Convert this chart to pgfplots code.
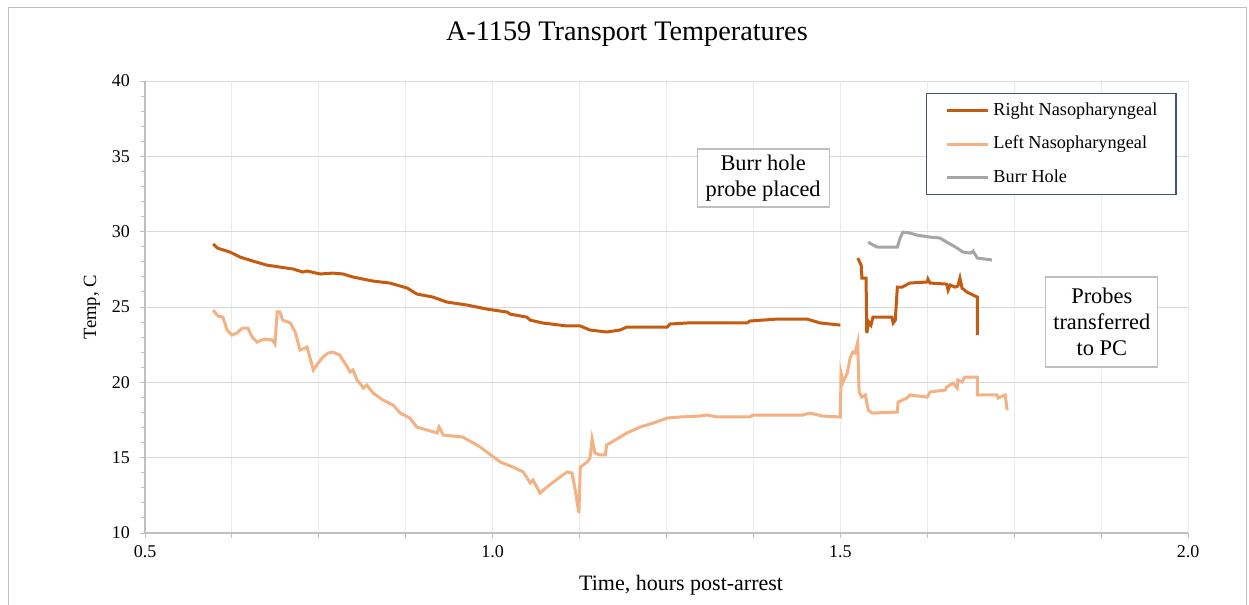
\documentclass[border=0pt]{standalone}
\usepackage{fontspec}
\setmainfont{Liberation Serif}
\usepackage{pgfplots}
\pgfplotsset{compat=1.18}
\definecolor{rightc}{HTML}{C55A11}
\definecolor{leftc}{HTML}{F4B183}
\definecolor{burrc}{HTML}{A5A5A5}
\definecolor{axgray}{HTML}{BFBFBF}
\definecolor{hgrid}{HTML}{D9D9D9}
\definecolor{vgrid}{HTML}{EBEBEB}
\definecolor{legframe}{HTML}{44546A}
\begin{document}
\begin{tikzpicture}
\path[use as bounding box] (0,0) rectangle (936.75pt,453pt);
\draw[axgray, line width=0.75pt] (6pt,-5pt) rectangle (934.5pt,447pt);
\begin{axis}[
  at={(108.75pt,53.25pt)}, anchor=south west,
  scale only axis, width=782.25pt, height=339pt,
  xmin=0.5, xmax=2, ymin=10, ymax=40,
  xtick={0.5,0.625,0.75,0.875,1,1.125,1.25,1.375,1.5,1.625,1.75,1.875,2},
  xticklabels={0.5,,,,1.0,,,,1.5,,,,2.0},
  ytick={10,15,20,25,30,35,40},
  minor y tick num=4,
  /pgf/number format/assume math mode=true,
  ticklabel style={font=\fontsize{13.5}{15}\selectfont},
  xticklabel style={yshift=-2pt},
  yticklabel style={xshift=-4pt},
  tick align=outside,
  major tick length=3.75pt, minor tick length=3pt,
  tick style={axgray, line width=0.75pt},
  axis x line*=bottom, axis y line*=left,
  axis line style={axgray, line width=1.1pt, -},
  xmajorgrids, ymajorgrids,
  x grid style={vgrid, line width=0.75pt},
  y grid style={hgrid, line width=0.75pt},
  title={A-1159 Transport Temperatures},
  title style={font=\fontsize{21.2}{24}\selectfont, at={(0.462,1)}, anchor=center, yshift=29.25pt},
  xlabel={Time, hours post-arrest},
  xlabel style={font=\fontsize{16.5}{18}\selectfont, at={(0.514,-0.115)}, anchor=center},
  ylabel={Temp, C},
  ylabel style={font=\fontsize{14}{16}\selectfont, at={(-0.0508,0.5)}, anchor=center, rotate=0},
  legend cell align=left,
  legend image code/.code={\draw[#1] (0pt,0pt) -- (30.75pt,0pt);},
  legend style={at={(0.749,0.973)}, anchor=north west, draw=legframe, line width=0.9pt,
    font=\fontsize{13.7}{16}\selectfont, inner xsep=14pt, inner ysep=6.25pt,
    nodes={inner sep=0pt, text height=10pt, text depth=3pt},
    row sep=12pt, /tikz/column sep=3pt},
]
\addplot[rightc, line width=2.25pt] coordinates {
(0.598,29.18) (0.604,28.91) (0.622,28.65) (0.637,28.31) (0.655,28.05) (0.675,27.78)
(0.694,27.65) (0.713,27.52) (0.727,27.32) (0.733,27.39) (0.752,27.19) (0.770,27.25)
(0.785,27.19) (0.799,26.99) (0.828,26.72) (0.852,26.59) (0.877,26.26) (0.891,25.86)
(0.914,25.66) (0.934,25.33) (0.963,25.13) (0.992,24.86) (1.021,24.66) (1.025,24.53)
(1.049,24.33) (1.054,24.13) (1.072,23.94) (1.107,23.74) (1.126,23.74) (1.140,23.47)
(1.164,23.34) (1.183,23.47) (1.193,23.67) (1.251,23.67) (1.255,23.87) (1.280,23.94)
(1.366,23.94) (1.370,24.07) (1.409,24.20) (1.452,24.20) (1.471,23.94) (1.500,23.80)
};
\addlegendentry{Right Nasopharyngeal}
\addplot[leftc, line width=2.25pt] coordinates {
(0.598,24.80) (0.605,24.40) (0.612,24.33) (0.618,23.47) (0.625,23.14) (0.632,23.27)
(0.640,23.60) (0.648,23.60) (0.654,23.01) (0.661,22.67) (0.668,22.81) (0.673,22.87)
(0.683,22.81) (0.687,22.54) (0.690,24.67) (0.694,24.67) (0.698,24.13) (0.709,23.94)
(0.716,23.34) (0.723,22.14) (0.730,22.28) (0.733,22.34) (0.737,21.68) (0.742,20.82)
(0.749,21.28) (0.756,21.68) (0.763,21.94) (0.770,22.01) (0.780,21.81) (0.791,21.02)
(0.795,20.68) (0.799,20.82) (0.805,20.15) (0.809,19.95) (0.814,19.62) (0.819,19.82)
(0.828,19.29) (0.842,18.83) (0.857,18.49) (0.867,17.96) (0.881,17.63) (0.891,17.03)
(0.906,16.83) (0.920,16.64) (0.923,17.03) (0.929,16.50) (0.957,16.37) (0.982,15.71)
(1.011,14.71) (1.029,14.38) (1.044,14.05) (1.054,13.32) (1.058,13.52) (1.068,12.65)
(1.078,13.05) (1.097,13.72) (1.107,14.05) (1.114,13.98) (1.118,13.05) (1.121,12.19)
(1.124,11.33) (1.126,14.38) (1.136,14.71) (1.140,14.98) (1.143,16.24) (1.147,15.31)
(1.154,15.18) (1.162,15.18) (1.164,15.84) (1.176,16.17) (1.193,16.64) (1.212,17.03)
(1.231,17.30) (1.251,17.63) (1.269,17.70) (1.298,17.76) (1.308,17.83) (1.323,17.70)
(1.370,17.70) (1.374,17.83) (1.446,17.83) (1.456,17.96) (1.475,17.76) (1.500,17.70)
(1.501,20.62) (1.504,20.02) (1.510,20.62) (1.514,21.61) (1.518,22.01) (1.521,21.94)
(1.525,22.67) (1.527,19.36) (1.531,19.02) (1.536,19.16) (1.540,18.16) (1.546,17.96)
(1.582,18.03) (1.583,18.69) (1.596,18.96) (1.600,19.16) (1.625,19.02) (1.629,19.36)
(1.651,19.49) (1.653,19.69) (1.662,19.95) (1.668,19.62) (1.669,20.15) (1.675,20.02)
(1.679,20.35) (1.697,20.35) (1.697,19.16) (1.725,19.16) (1.727,18.96) (1.737,19.16)
(1.740,18.16)
};
\addlegendentry{Left Nasopharyngeal}
\addplot[burrc, line width=2.25pt] coordinates {
(1.540,29.31) (1.547,29.11) (1.553,28.98) (1.582,28.98) (1.586,29.58) (1.590,29.97)
(1.600,29.91) (1.610,29.77) (1.629,29.64) (1.643,29.58) (1.653,29.31) (1.668,28.91)
(1.676,28.65) (1.687,28.58) (1.691,28.71) (1.697,28.25) (1.718,28.12)
};
\addlegendentry{Burr Hole}
\addplot[rightc, line width=2.25pt, forget plot] coordinates {
(1.525,28.25) (1.530,27.78) (1.531,26.92) (1.537,26.92) (1.538,23.27) (1.541,24.00)
(1.544,23.80) (1.547,24.33) (1.574,24.33) (1.576,23.94) (1.579,24.13) (1.582,26.32)
(1.589,26.32) (1.597,26.52) (1.600,26.59) (1.625,26.66) (1.626,26.85) (1.629,26.59)
(1.653,26.52) (1.655,26.12) (1.658,26.46) (1.665,26.32) (1.669,26.39) (1.672,26.92)
(1.675,26.26) (1.682,25.99) (1.691,25.79) (1.697,25.66) (1.697,23.14)
};
\node[draw=axgray, line width=0.9pt, fill=white, align=center, inner sep=0pt,
  minimum width=99pt, minimum height=43.5pt,
  font=\fontsize{16.8}{19.5}\selectfont] at (axis cs:1.389,33.56) {Burr hole\\probe placed};
\node[draw=axgray, line width=0.9pt, fill=white, align=center, inner sep=0pt,
  minimum width=84pt, minimum height=67.5pt,
  font=\fontsize{16.8}{19.5}\selectfont] at (axis cs:1.876,24.0) {Probes\\transferred\\to PC};
\end{axis}
\end{tikzpicture}
\end{document}
